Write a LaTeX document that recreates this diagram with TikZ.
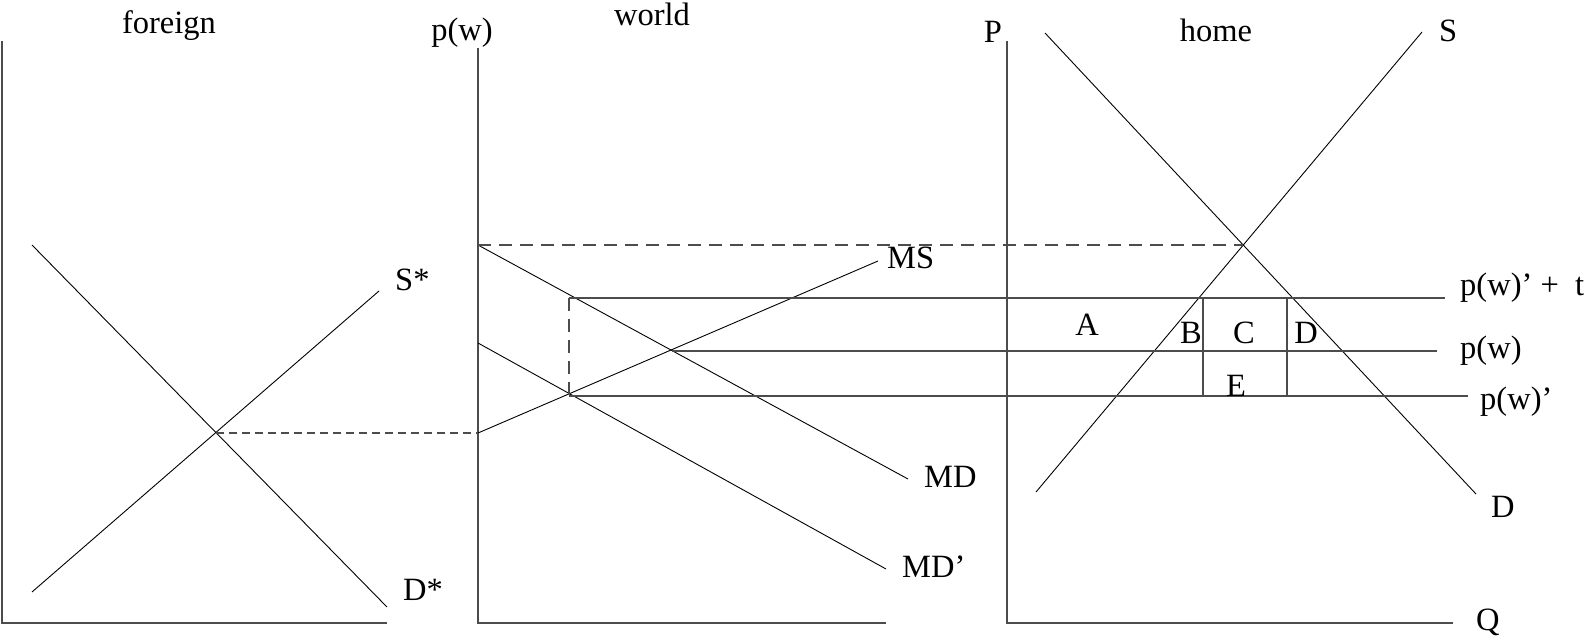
\documentclass[tikz,border=0pt]{standalone}
\usepackage{fontspec}
\setmainfont{Liberation Serif}
\begin{document}
\begin{tikzpicture}[x=1pt,y=-1pt,
  axis/.style={draw=black!70, line width=1.6pt},
  curve/.style={draw=black, line width=0.9pt},
  price/.style={draw=black!70, line width=1.4pt},
  guide/.style={draw=black!70, line width=1.4pt, dash pattern=on 13pt off 8pt},
  guidesmall/.style={draw=black!70, line width=1.4pt, dash pattern=on 8pt off 5pt},
  lbl/.style={inner sep=0pt, font=\fontsize{32.5}{39}\selectfont}]
\useasboundingbox (0,0) rectangle (1584,637);

% ---------- foreign panel ----------
\coordinate (fTop) at (2,41);
\coordinate (fO) at (2,623);
\coordinate (fR) at (387,623);
\draw[axis] (fTop) -- (fO) -- (fR);
\coordinate (fD1) at (32,245);
\coordinate (fD2) at (387,607);
\coordinate (fS1) at (32,592);
\coordinate (fS2) at (379,291);
\draw[curve] (fD1) -- (fD2);
\draw[curve] (fS1) -- (fS2);
\coordinate (fEq) at (216,433);

% ---------- world panel ----------
\coordinate (wTop) at (478,48);
\coordinate (wO) at (478,623);
\coordinate (wR) at (886,623);
\draw[axis] (wTop) -- (wO) -- (wR);
\coordinate (wMS0) at (478,433);
\coordinate (wMS1) at (878,261);
\coordinate (wMD0) at (478,245);
\coordinate (wMD1) at (908,479);
\coordinate (wMDp0) at (478,343);
\coordinate (wMDp1) at (886,569);
\draw[curve] (wMS0) -- (wMS1);
\draw[curve] (wMD0) -- (wMD1);
\draw[curve] (wMDp0) -- (wMDp1);
\draw[guidesmall] (fEq) -- (wMS0);

% ---------- home panel ----------
\coordinate (hTop) at (1007,41);
\coordinate (hO) at (1007,623);
\coordinate (hR) at (1453,623);
\draw[axis] (hTop) -- (hO) -- (hR);
\coordinate (hD0) at (1045,33);
\coordinate (hD1) at (1476,494);
\coordinate (hS0) at (1036,492);
\coordinate (hS1) at (1422,32);
\draw[curve] (hD0) -- (hD1);
\draw[curve] (hS0) -- (hS1);
\coordinate (hEq) at (1243,245);
\draw[guide] (wMD0) -- (hEq);

% price lines
\coordinate (ptA) at (569,298);
\coordinate (ptB) at (1445,298);
\coordinate (pwA) at (672,351);
\coordinate (pwB) at (1437,351);
\coordinate (ppA) at (569,396);
\coordinate (ppB) at (1468,396);
\draw[price] (ptA) -- (ptB);
\draw[price] (pwA) -- (pwB);
\draw[price] (ppA) -- (ppB);
\draw[guide] (ptA) -- (ppA);

% rectangle dividers
\coordinate (v1t) at (1203,298);
\coordinate (v1b) at (1203,396);
\coordinate (v2t) at (1287,298);
\coordinate (v2b) at (1287,396);
\draw[price] (v1t) -- (v1b);
\draw[price] (v2t) -- (v2b);

% ---------- labels ----------
\node[lbl, anchor=base] (tForeign) at (169,33) {foreign};
\node[lbl, anchor=base] (tPw) at (462,40) {p(w)};
\node[lbl, anchor=base] (tWorld) at (652,25) {world};
\node[lbl, anchor=base] (tP) at (993,42) {P};
\node[lbl, anchor=base] (tHome) at (1216,41) {home};
\node[lbl, anchor=base west] (tS) at (1439,41) {S};
\node[lbl, anchor=base west] (tSs) at (395,290) {S*};
\node[lbl, anchor=base west] (tDs) at (403,600) {D*};
\node[lbl, anchor=base west] (tMS) at (887,268) {MS};
\node[lbl, anchor=base west] (tMD) at (924,487) {MD};
\node[lbl, anchor=base west] (tMDp) at (902,577) {MD’};
\node[lbl, anchor=base] (tA) at (1087,335) {A};
\node[lbl, anchor=base] (tB) at (1191,343) {B};
\node[lbl, anchor=base] (tC) at (1244,343) {C};
\node[lbl, anchor=base] (tDD) at (1306,343) {D};
\node[lbl, anchor=base] (tE) at (1236,396) {E};
\node[lbl, anchor=base west] (tPt) at (1460,295) {p(w)’ +\ \ t};
\node[lbl, anchor=base west] (tPw2) at (1460,358) {p(w)};
\node[lbl, anchor=base west] (tPp) at (1480,409) {p(w)’};
\node[lbl, anchor=base west] (tD) at (1491,517) {D};
\node[lbl, anchor=base west] (tQ) at (1476,630) {Q};
\end{tikzpicture}
\end{document}
